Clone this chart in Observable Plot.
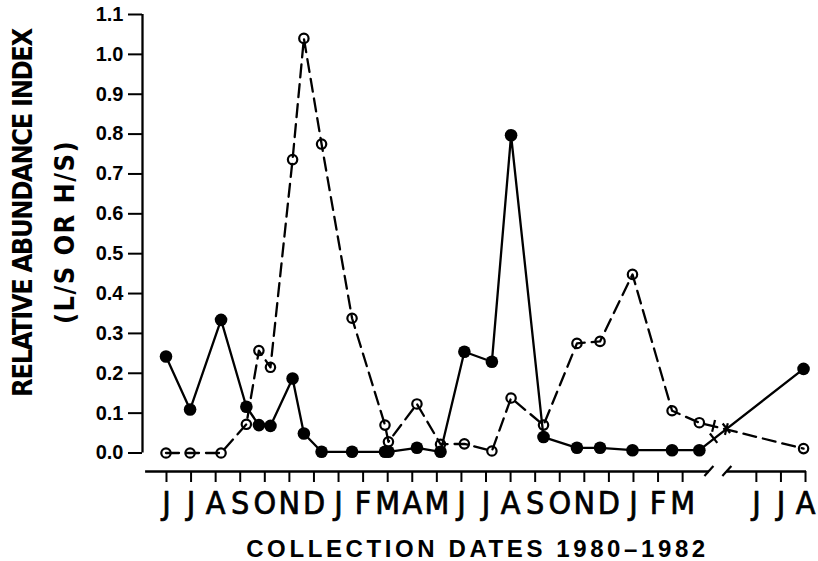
<!DOCTYPE html>
<html><head><meta charset="utf-8">
<script src="https://cdn.jsdelivr.net/npm/d3@7"></script>
<script src="https://cdn.jsdelivr.net/npm/@observablehq/plot@0.6"></script>
<style>
  html,body{margin:0;padding:0;background:#fff;}
  #chart svg{display:block;}
</style>
</head><body><div id="chart"></div>
<script>
// Collection dates expressed as month index (0 = June 1980)
const collectionDates = [-0.02, 0.96, 2.22, 3.25, 3.76, 4.23, 5.13, 5.59, 6.31, 7.55, 8.89, 9.03,
  10.19, 11.15, 12.12, 13.24, 14.02, 15.34, 16.70, 17.64, 18.96, 20.57, 21.68, 25.92];
// Filled circles, solid line
const filledSeries = [0.242, 0.109, 0.334, 0.116, 0.070, 0.068, 0.187, 0.049, 0.003, 0.003, 0.003, 0.003,
  0.013, 0.003, 0.254, 0.229, 0.797, 0.040, 0.013, 0.013, 0.007, 0.007, 0.007, 0.211];
// Open circles, dashed line
const openSeries = [0.000, 0.000, 0.000, 0.072, 0.257, 0.215, 0.736, 1.040, 0.775, 0.338, 0.070, 0.028,
  0.123, 0.022, 0.023, 0.005, 0.138, 0.070, 0.275, 0.280, 0.448, 0.106, 0.076, 0.011];

const monthTicks = [0,1,2,3,4,5,6,7,8,9,10,11,12,13,14,15,16,17,18,19,20,21,24,25,26];
const monthLabels = ["J","J","A","S","O","N","D","J","F","M","A","M","J","J","A","S","O","N","D","J","F","M","J","J","A"];
const yTicks = [0,0.1,0.2,0.3,0.4,0.5,0.6,0.7,0.8,0.9,1.0,1.1];
const axisBreaks = [22.09, 22.82];
const lineBreaks = [22.28, 22.80];

const xTitle = "COLLECTION DATES 1980\u20131982";
const yTitle1 = "RELATIVE ABUNDANCE INDEX";
const yTitle2 = "(L/S OR H/S)";

const xMin = -0.976, xMax = 26.04;
const yMin = -0.0464, yMax = 1.1;

const filledRows = collectionDates.map((d, i) => ({date: d, value: filledSeries[i]}));
const openRows = collectionDates.map((d, i) => ({date: d, value: openSeries[i]}));

const narrow = "'Liberation Sans Narrow','Arial Narrow','DejaVu Sans Condensed',sans-serif";
const sans = "'Liberation Sans',Arial,Helvetica,sans-serif";

function breakMarks(index, scales) {
  const {x, y} = scales;
  const g = d3.create("svg:g").attr("stroke", "black").attr("stroke-width", 2.2).attr("fill", "none");
  if (!x || !y) return g.node();
  const yb = y(yMin);
  for (const b of axisBreaks) {
    const px = x(b);
    g.append("line").attr("x1", px - 4.5).attr("y1", yb + 5).attr("x2", px + 4.5).attr("y2", yb - 5);
  }
  const n = collectionDates.length;
  for (const s of [filledSeries, openSeries]) {
    const x0 = x(collectionDates[n - 2]), y0 = y(s[n - 2]);
    const x1 = x(collectionDates[n - 1]), y1 = y(s[n - 1]);
    const dx = x1 - x0, dy = y1 - y0, len = Math.hypot(dx, dy);
    const ux = dx / len, uy = dy / len;
    for (const b of lineBreaks) {
      const t = (x(b) - x0) / dx;
      const cx = x0 + t * dx, cy = y0 + t * dy;
      g.append("line").attr("x1", cx - uy * 6).attr("y1", cy + ux * 6)
        .attr("x2", cx + uy * 6).attr("y2", cy - ux * 6);
    }
  }
  return g.node();
}

const chart = Plot.plot({
  width: 818,
  height: 561,
  marginLeft: 142,
  marginRight: 12,
  marginTop: 14,
  marginBottom: 90,
  style: {fontFamily: sans, background: "white", color: "black"},
  x: {domain: [xMin, xMax], axis: null},
  y: {domain: [yMin, yMax], axis: null},
  marks: [
    Plot.ruleX([xMin], {y1: 0, y2: yMax, stroke: "black", strokeWidth: 2.3}),
    Plot.axisY({ticks: yTicks, tickFormat: d3.format(".1f"), tickSize: 14, tickPadding: 5,
      fontSize: 20, fontWeight: "bold", fontFamily: sans, strokeWidth: 2, label: null}),
    Plot.ruleY([yMin], {x1: -0.85, x2: axisBreaks[0], stroke: "black", strokeWidth: 2.5}),
    Plot.ruleY([yMin], {x1: axisBreaks[1], x2: xMax, stroke: "black", strokeWidth: 2.5}),
    Plot.axisX({ticks: monthTicks, tickFormat: d => monthLabels[monthTicks.indexOf(d)],
      tickSize: 11, tickPadding: 9, fontSize: 32, fontFamily: narrow, strokeWidth: 2, label: null}),
    Plot.line(openRows, {x: "date", y: "value", stroke: "black", strokeWidth: 2.3, strokeDasharray: "13,7"}),
    Plot.line(filledRows, {x: "date", y: "value", stroke: "black", strokeWidth: 2.3}),
    Plot.dot(openRows, {x: "date", y: "value", r: 4.7, stroke: "black", strokeWidth: 2.2, fill: "none"}),
    Plot.dot(filledRows, {x: "date", y: "value", r: 6.3, fill: "black", stroke: "none"}),
    breakMarks,
    Plot.text([xTitle], {text: d => d, frameAnchor: "bottom", dx: 3, dy: 77.5, lineAnchor: "middle",
      textAnchor: "middle", fontSize: 24, fontWeight: "bold", fontFamily: sans}),
    Plot.text([yTitle1], {text: d => d, frameAnchor: "left", dx: -119, dy: -30, rotate: -90,
      textAnchor: "middle", lineAnchor: "middle", fontSize: 27, fontWeight: "bold", fontFamily: narrow}),
    Plot.text([yTitle2], {text: d => d, frameAnchor: "left", dx: -77, dy: -11, rotate: -90,
      textAnchor: "middle", lineAnchor: "middle", fontSize: 27, fontWeight: "bold", fontFamily: narrow})
  ]
});

const svg = d3.select(chart);
const spacing = new Map([[xTitle, "3.6px"], [yTitle1, "-1.4px"], [yTitle2, "1.4px"]]);
svg.selectAll("text").each(function() {
  const s = spacing.get(this.textContent);
  if (s) d3.select(this).style("letter-spacing", s);
});
// medium weight for the month letters
svg.selectAll('g[aria-label="x-axis tick label"] text')
  .style("stroke", "black").style("stroke-width", "0.7px");

document.getElementById("chart").append(chart);
</script>
</body></html>
